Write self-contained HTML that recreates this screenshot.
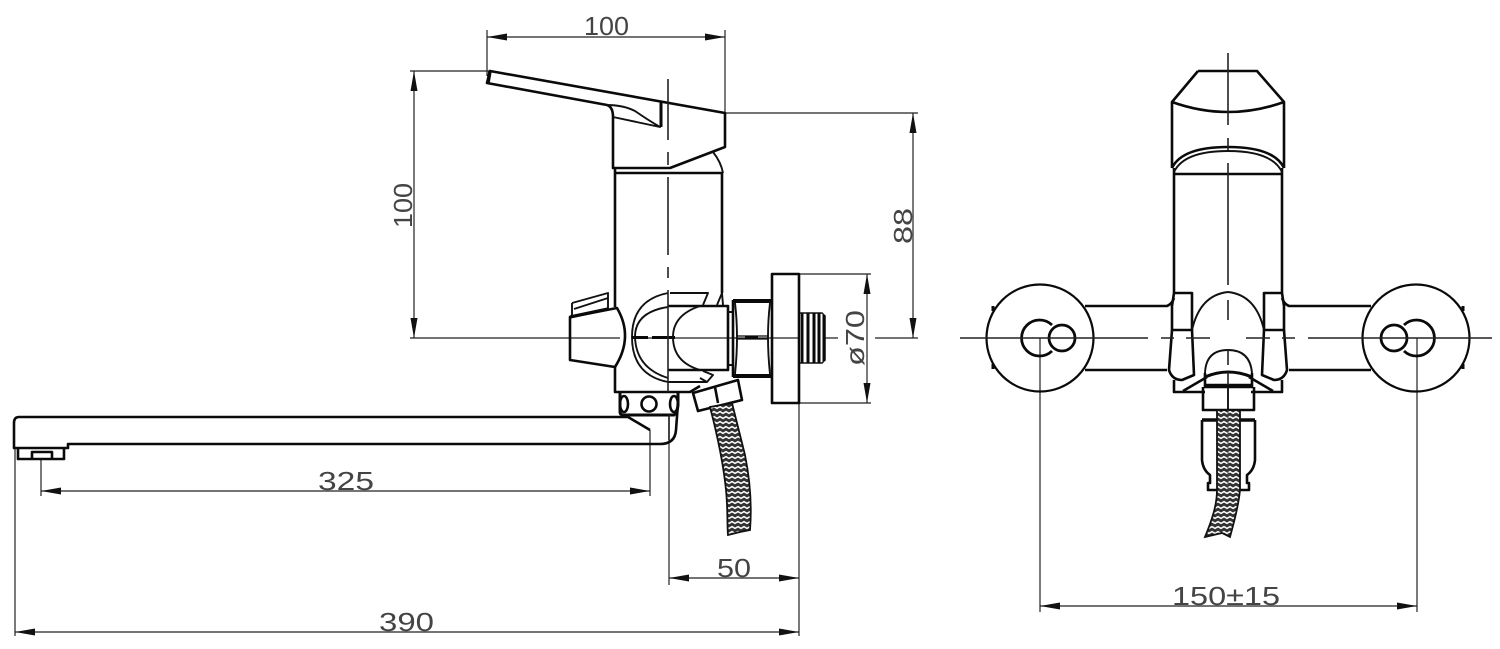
<!DOCTYPE html>
<html><head><meta charset="utf-8"><style>
html,body{margin:0;padding:0;background:#fff;width:1500px;height:649px;overflow:hidden}
svg{display:block}
.k{fill:none;stroke:#0a0a0a;stroke-width:2.6;stroke-linejoin:round}
.m{fill:none;stroke:#111;stroke-width:1.9}
.t{fill:none;stroke:#222;stroke-width:1.2}
.c{fill:none;stroke:#222;stroke-width:1.6}
text{font-family:"Liberation Sans",sans-serif;font-size:26px;fill:#444}
</style></head><body>
<svg width="1500" height="649" viewBox="0 0 1500 649" xmlns="http://www.w3.org/2000/svg">
<defs>
<pattern id="h" width="6" height="5" patternUnits="userSpaceOnUse">
<rect width="6" height="5" fill="#333"/>
<path d="M-1 1L3 3.4L7 1M-1 -4L3 -1.6L7 -4M-1 6L3 8.4L7 6" fill="none" stroke="#fff" stroke-width="1.5"/>
</pattern>
<path id="ar" d="M0 0L20 -3.5L20 3.5Z" fill="#111"/>
</defs>

<!-- Dimension lines -->
<g class="t">
<path d="M487 30V76M725 30V113M487 37H725"/>
<path d="M410 71H490M414 71V338M725 113H918M913 113V338M410 338H620M640 338H838M875 338H918"/>
<path d="M799 274H871M799 403H871M867 274V403"/>
<path d="M41 459V496M650 430V496M41 491H650"/>
<path d="M669 415V585M799 403V636M669 578H799"/>
<path d="M15 448V636M15 632H799"/>
<path d="M1040 338V612M1417 338V612M1040 606H1417"/>
</g>
<use href="#ar" transform="translate(487 37)"/>
<use href="#ar" transform="translate(725 37) rotate(180)"/>
<use href="#ar" transform="translate(414 71) rotate(90)"/>
<use href="#ar" transform="translate(414 338) rotate(-90)"/>
<use href="#ar" transform="translate(913 113) rotate(90)"/>
<use href="#ar" transform="translate(913 338) rotate(-90)"/>
<use href="#ar" transform="translate(867 274) rotate(90)"/>
<use href="#ar" transform="translate(867 403) rotate(-90)"/>
<use href="#ar" transform="translate(41 491)"/>
<use href="#ar" transform="translate(650 491) rotate(180)"/>
<use href="#ar" transform="translate(669 578)"/>
<use href="#ar" transform="translate(799 578) rotate(180)"/>
<use href="#ar" transform="translate(15 632)"/>
<use href="#ar" transform="translate(799 632) rotate(180)"/>
<use href="#ar" transform="translate(1040 606)"/>
<use href="#ar" transform="translate(1417 606) rotate(180)"/>

<!-- Labels -->
<text x="584" y="35" textLength="45" lengthAdjust="spacingAndGlyphs">100</text>
<text transform="translate(412 228) rotate(-90)" textLength="45" lengthAdjust="spacingAndGlyphs">100</text>
<text transform="translate(912 244) rotate(-90)" textLength="36" lengthAdjust="spacingAndGlyphs">88</text>
<text transform="translate(864 366) rotate(-90)" textLength="56" lengthAdjust="spacingAndGlyphs">ø70</text>
<text x="318" y="490" textLength="56" lengthAdjust="spacingAndGlyphs">325</text>
<text x="717" y="577" textLength="34" lengthAdjust="spacingAndGlyphs">50</text>
<text x="379" y="631" textLength="55" lengthAdjust="spacingAndGlyphs">390</text>
<text x="1172" y="605" textLength="108" lengthAdjust="spacingAndGlyphs">150±15</text>

<!-- Side view: handle and body -->
<g class="k">
<path d="M490 71L725 113V147L670 168H613V117Q613 107 607 105L487 83Z"/>
<path d="M607 105Q623 105 635 111Q648 120 660 127L613 117" class="m"/>
<path d="M661 102V127" stroke-width="3"/>
<path d="M615 173H723" />
<path d="M615 168V307M722 173V293" />
<path d="M713 152Q721 162 723 173" class="m"/>
<path d="M488 83L490 71" stroke-width="3.5"/>

<!-- knob -->
<path d="M617 308L570 317V360L615 367Q634 337 617 308Z"/>
<path d="M572 303L608 293V310M572 303V317M574 309L608 298" class="m"/>
<path d="M570 317L608 309" stroke-width="3.2"/>
<path d="M615 367V392H690L700 386"/>

<!-- central body -->
<path d="M668 293Q632 300 632 337Q632 375 668 382H707" class="m"/>
<path d="M668 307Q635 312 635 337Q636 368 668 378" class="m"/>
<path d="M670 293H708L703 305M722 293L717 305M722 293L723 305" class="m"/>
<path d="M668 306H728V370H668"/>
<path d="M700 306Q673 315 673 337Q673 362 700 370" class="m"/>
<path d="M703 371L713 375L707 382L700 378" class="m"/>
<path d="M728 312H733V365H728" class="m"/>

<!-- nut -->
<path d="M733 301H772M733 376H772" stroke-width="4"/>
<path d="M733 300V377"/>
<path d="M735 303Q737 320 737 337Q737 355 735 374M770 303Q768 320 768 337Q768 355 770 374" class="m"/>
<path d="M737 336H768M737 339H768" stroke-width="1.2"/>
<path d="M745 337.5H758" stroke-width="4"/>
<rect x="772" y="274" width="27" height="129"/>
</g>
<!-- thread -->
<path d="M800 313H822L825 316V360L822 363H800" fill="#fff" stroke="#111" stroke-width="1.5"/>
<g stroke="#0a0a0a" stroke-width="3" fill="none">
<path d="M802 313V363M808 313V363M814 313V363M819 313V363M824 315V361"/>
</g>
<path d="M632 337.5H648M652 337.5H675" stroke="#0a0a0a" stroke-width="3"/>

<!-- Ring -->
<g class="k">
<path d="M620 392V412Q620 415 624 415H674Q678 412 678 403V392" stroke-width="3"/>
<ellipse cx="624" cy="404" rx="4" ry="8"/>
<circle cx="649" cy="404" r="7.5"/>
<ellipse cx="674" cy="404" rx="4" ry="8"/>
</g>

<!-- Spout -->
<g class="k">
<path d="M628 417H19Q14 417 14 423V448H68V444H660Q675 444 676 430L678 403"/>
<path d="M628 417L650 430"/>
<path d="M18 448V459H64V448M32 459V452H52V459"/>
<path d="M693 393L738 380L742 400L698 411Z"/>
<path d="M715 387L718 403"/>
</g>

<!-- Hose side -->
<path d="M710 407C716 430 723 460 726 490C728 510 727 525 728 535L740 532L750 530C752 505 750 480 745 455L732 403Z" fill="url(#h)" stroke="#111" stroke-width="1.8"/>

<!-- Side view centre line -->
<path class="c" d="M668 79V140M668 152V165M668 177V255M668 267V278M668 290V392M669 415V440"/>

<!-- Front view -->
<g id="half">
<g class="k">
<circle cx="1040" cy="338" r="53.5" stroke-width="2.2"/>
<path d="M993 306V311M993 364V369" stroke-width="3"/>
<path d="M1052 325A18 18 0 1 0 1052 351" stroke-width="2.8"/>
<circle cx="1062" cy="338" r="13" stroke-width="2.8"/>
<path d="M1085 306H1167Q1172 304 1174 298M1085 370H1167" />
<path d="M1174 293H1192V330H1172V306L1174 293" />
<path d="M1172 330L1169 370Q1172 380 1182 380L1194 375L1192 330"/>
<path d="M1174 380V392H1205M1183 391L1207 377" />
<path d="M1192 330Q1200 295 1228 292" class="m"/>
<path d="M1174 168V293"/>
</g>
</g>
<use href="#half" transform="matrix(-1 0 0 1 2456 0)"/>

<g class="k">
<path d="M1198 71H1257L1284 102V168M1198 71L1172 102V168"/>
<path d="M1172 102Q1228 122 1284 102"/>
<path d="M1172 168Q1182 147 1228 147Q1274 147 1284 168"/>
<path d="M1174 172Q1184 151 1228 151Q1272 151 1282 172" class="m"/>
<path d="M1173 174H1283"/>
<path d="M1205 373Q1206 350 1228 350Q1250 350 1252 373" class="m"/>
<path d="M1205 377Q1228 367 1252 377" stroke-width="3"/>
<path d="M1205 373V387H1252V373M1204 385H1253" />
<path d="M1203 387V410H1254V387"/>
<path d="M1228 387V410" class="m"/>
<path d="M1202 420H1255" stroke-width="3.6"/>
<path d="M1202 420V460Q1203 470 1210 475V483H1208V490H1217M1255 420V460Q1254 470 1247 475V483H1249V490H1240"/>
</g>
<path d="M1217 410H1240V490C1238 510 1233 525 1230 537L1222 533L1205 537C1212 520 1217 505 1217 490Z" fill="url(#h)" stroke="#111" stroke-width="1.8"/>
<path d="M1228 410V490" stroke="#444" stroke-width="1"/>

<!-- Front view centre lines -->
<path class="c" d="M1228 53V125M1228 138V150M1228 163V285M1228 300V320M1228 350V365M1228 372V385"/>
<path class="c" d="M960 338H1148M1161 338H1174M1186 338H1210M1246 338H1270M1282 338H1295M1308 338H1492"/>
</svg>
</body></html>
